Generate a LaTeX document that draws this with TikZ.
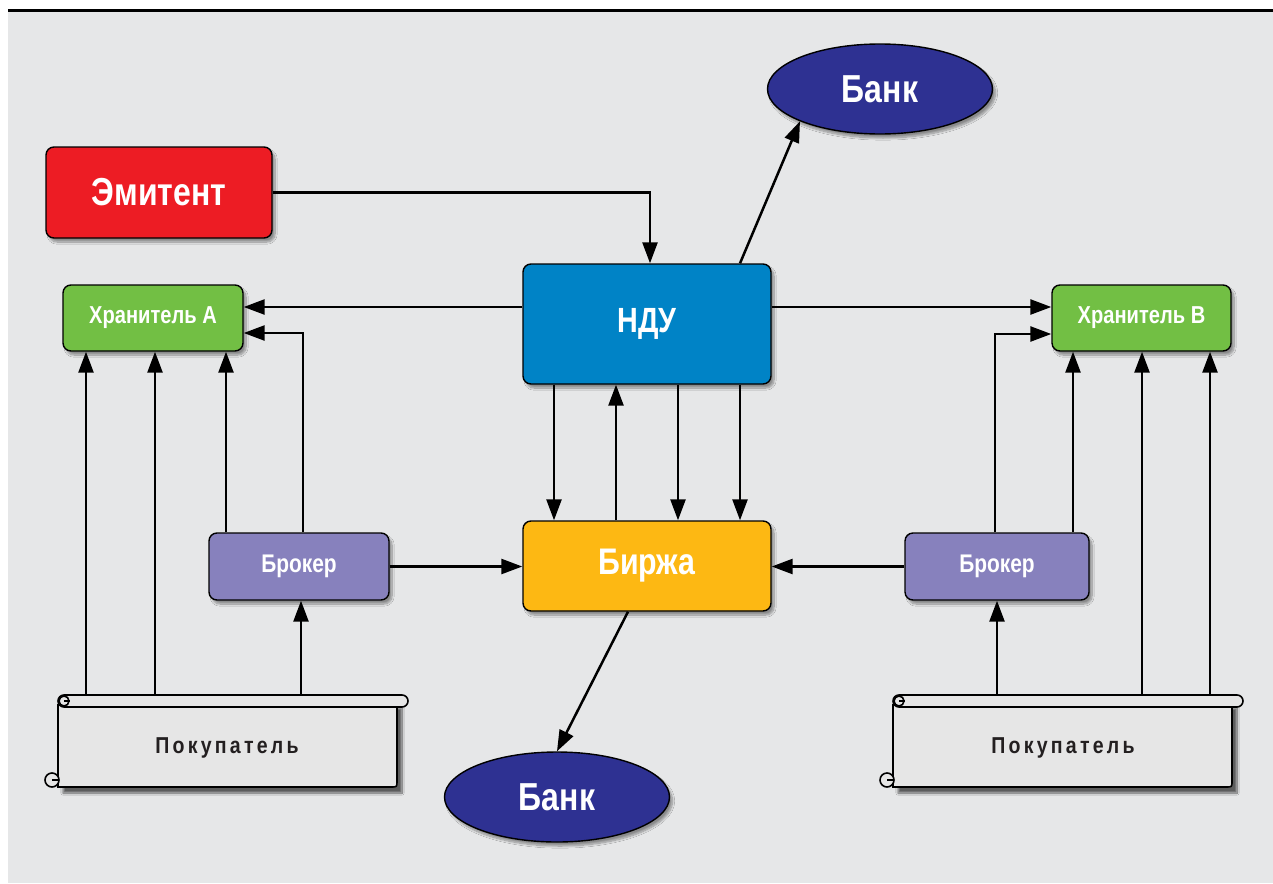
\documentclass[tikz,border=0pt]{standalone}
\usepackage{fontspec}
\setmainfont{Liberation Sans}[FakeStretch=0.82]
\newfontfamily\buyerfont{Liberation Sans}[FakeStretch=0.85,LetterSpace=14]
\usetikzlibrary{shapes.geometric,shadows.blur,arrows.meta,calc}
\definecolor{bg}{HTML}{E6E7E8}
\definecolor{emitred}{HTML}{ED1C24}
\definecolor{ndublue}{HTML}{0083C6}
\definecolor{birzhayellow}{HTML}{FDB813}
\definecolor{keepgreen}{HTML}{72BF44}
\definecolor{brokerpurple}{HTML}{8781BD}
\definecolor{banknavy}{HTML}{2E3192}
\definecolor{buyertext}{HTML}{231F20}
\definecolor{scrollfill}{HTML}{E6E6E6}
\newcommand\drawscroll[3]{%
  \path[blur shadow={shadow xshift=5pt,shadow yshift=-6pt,shadow blur steps=12,shadow opacity=60}]
    (#1,702) -- (#1,787) -- (#3,787) -- (#3,702) -- cycle;
  \draw[scrollline,fill=scrollfill] (#1,705) -- (#1,787) -- ($(#3,787)+(-6,0)$) .. controls (#3,787) .. ($(#3,787)+(0,-6)$) -- (#3,705) -- cycle;
  \draw[scrollline,fill=scrollfill,rounded corners=6pt] (#1,695) rectangle (#2,707);
  \draw[scrollline,fill=scrollfill] ($(#1,780)+(-6,0)$) circle[radius=7];
  \draw[scrollline] ($(#1,780)+(-6,0)$) -- (#1,780);
  \draw[scrollline] ($(#1,701)+(6,0)$) circle[radius=5];
  \draw[scrollline] ($(#1,701)+(6,0)$) -- ($(#1,701)+(12,0)$);
}
\begin{document}
\begin{tikzpicture}[x=1pt,y=-1pt,
  scrollline/.style={draw=black,line width=1.6pt},
  box/.style={draw=black,line width=1.4pt,rounded corners=8pt,inner sep=0pt,text=white,
    blur shadow={shadow xshift=3pt,shadow yshift=-4pt,shadow blur steps=10,shadow opacity=40}},
  bank/.style={ellipse,draw=black,line width=1.4pt,fill=banknavy,text=white,inner sep=0pt,
    minimum width=225pt,minimum height=90pt,font=\bfseries\fontsize{39}{42}\selectfont,
    blur shadow={shadow xshift=3pt,shadow yshift=-4pt,shadow blur steps=10,shadow opacity=40}},
  conn/.style={draw=black,line width=2.5pt,-{Stealth[length=21pt,width=15pt,inset=0pt,fill=black]}}]
\useasboundingbox (0,0) rectangle (1273,883);
\fill[bg] (8,12) rectangle (1273,883);
\draw[line width=3pt] (8,11) -- (1273,11);

% nodes
\node[box,fill=emitred,minimum width=226pt,minimum height=91pt,font=\bfseries\fontsize{39}{42}\selectfont] (emit) at (159,192.5) {Эмитент};
\node[box,fill=ndublue,minimum width=248pt,minimum height=120pt,font=\bfseries\fontsize{35}{40}\selectfont] (ndu) at (647,324) {НДУ};
\node[box,fill=birzhayellow,minimum width=248pt,minimum height=90pt,font=\bfseries\fontsize{37}{40}\selectfont] (birzha) at (647,566) {Биржа};
\node[box,fill=keepgreen,minimum width=180pt,minimum height=66pt,font=\bfseries\fontsize{24.5}{26}\selectfont] (hrA) at (153,318) {Хранитель А};
\node[box,fill=keepgreen,minimum width=179pt,minimum height=66pt,font=\bfseries\fontsize{24.5}{26}\selectfont] (hrB) at (1141.5,318) {Хранитель В};
\node[box,fill=brokerpurple,minimum width=180pt,minimum height=67pt,font=\bfseries\fontsize{25.5}{28}\selectfont] (brA) at (299,566.5) {Брокер};
\node[box,fill=brokerpurple,minimum width=184pt,minimum height=67pt,font=\bfseries\fontsize{25.5}{28}\selectfont] (brB) at (997,566.5) {Брокер};
\node[bank] (bankT) at (880,89) {Банк};
\node[bank] (bankB) at (557,797) {Банк};

% buyers (scrolls)
\drawscroll{58}{408}{397}
\drawscroll{893}{1243}{1232}
\node[minimum width=350pt,minimum height=92pt,inner sep=0pt] (buyA) at (233,741) {};
\node[minimum width=350pt,minimum height=92pt,inner sep=0pt] (buyB) at (1068,741) {};
\node[text=buyertext,font=\buyerfont\bfseries\fontsize{23}{26}\selectfont] (buyAtxt) at (227,748) {Покупатель};
\node[text=buyertext,font=\buyerfont\bfseries\fontsize{23}{26}\selectfont] (buyBtxt) at (1063,748) {Покупатель};

% connectors
\draw[conn] (emit.east) -| ($(ndu.north)+(3,0)$);
\draw[conn] (ndu.north -| 740,0) -- (bankT.south west);
\draw[conn] (birzha.south -| 628,0) -- (bankB.north);

\draw[conn] (ndu.west |- 0,307) -- (hrA.east |- 0,307);
\draw[conn] (ndu.east |- 0,307) -- (hrB.west |- 0,307);

\draw[conn] (brA.north -| 303,0) |- (hrA.east |- 0,333);
\draw[conn] (brA.north -| 226,0) -- (hrA.south -| 226,0);
\draw[conn] (buyA.north -| 86,0) -- (hrA.south -| 86,0);
\draw[conn] (buyA.north -| 155,0) -- (hrA.south -| 155,0);
\draw[conn] (buyA.north -| 301,0) -- (brA.south -| 301,0);
\draw[conn] (brA.east) -- (birzha.west |- brA.east);

\draw[conn] (brB.north -| 995,0) |- (hrB.west |- 0,334);
\draw[conn] (brB.north -| 1073,0) -- (hrB.south -| 1073,0);
\draw[conn] (buyB.north -| 997,0) -- (brB.south -| 997,0);
\draw[conn] (buyB.north -| 1142,0) -- (hrB.south -| 1142,0);
\draw[conn] (buyB.north -| 1210,0) -- (hrB.south -| 1210,0);
\draw[conn] (brB.west) -- (birzha.east |- brB.west);

\draw[conn] (ndu.south -| 554,0) -- (birzha.north -| 554,0);
\draw[conn] (birzha.north -| 616,0) -- (ndu.south -| 616,0);
\draw[conn] (ndu.south -| 678,0) -- (birzha.north -| 678,0);
\draw[conn] (ndu.south -| 740,0) -- (birzha.north -| 740,0);
\end{tikzpicture}
\end{document}
